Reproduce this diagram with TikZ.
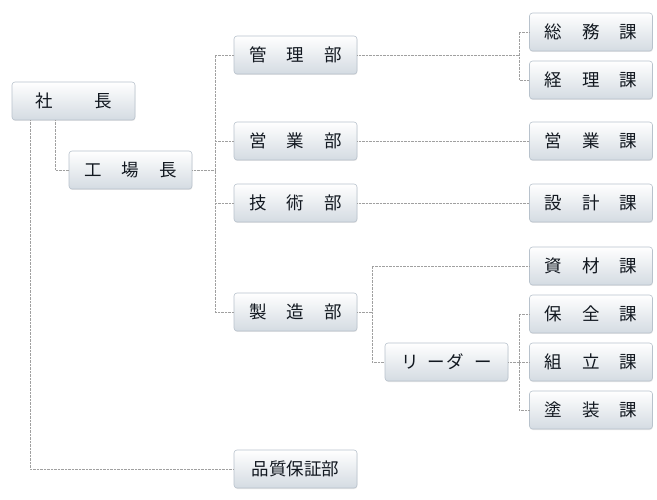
\documentclass[tikz,border=0pt]{standalone}
\usepackage{fontspec}
\newfontfamily\jp{Noto Sans CJK JP}
\usetikzlibrary{shadows}
\definecolor{boxline}{RGB}{184,194,204}
\definecolor{boxtop}{RGB}{255,255,255}
\definecolor{boxbot}{RGB}{212,219,226}
\definecolor{boxtext}{RGB}{18,24,32}
\definecolor{linegray}{RGB}{160,160,160}
\begin{document}
\begin{tikzpicture}
        [x=1pt, y=-1pt,
        box/.style={rectangle, rounded corners=3pt, draw=boxline, line width=0.6pt,
            top color=boxtop, bottom color=boxbot, minimum width=123pt, minimum height=38pt,
            inner sep=0pt, text=boxtext, font=\jp\fontsize{17.5}{19}\selectfont,
            drop shadow={opacity=0.18, shadow xshift=0.4pt, shadow yshift=-1pt}},
        link/.style={draw=linegray, line width=0.7pt, dash pattern=on 0.7pt off 0.7pt}]

        \useasboundingbox (0,0) rectangle (657,500);

        \node[box] (shacho) at (73.5,101) {社\hspace{2.4em}長};
        \node[box] (kojo) at (130.5,170) {工\hspace{1.15em}場\hspace{1.15em}長};
        \node[box] (kanri) at (295.5,55) {管\hspace{1.15em}理\hspace{1.15em}部};
        \node[box] (eigyo) at (295.5,141) {営\hspace{1.15em}業\hspace{1.15em}部};
        \node[box] (gijutsu) at (295.5,203) {技\hspace{1.15em}術\hspace{1.15em}部};
        \node[box] (seizo) at (295.5,312) {製\hspace{1.15em}造\hspace{1.15em}部};
        \node[box] (hinshitsu) at (295.5,469) {品質保証部};
        \node[box] (leader) at (446.5,362) {リ\hspace{0.5em}ー\hspace{0.05em}ダ\hspace{0.6em}ー};

        \node[box] (somu) at (591,32) {総\hspace{1.15em}務\hspace{1.15em}課};
        \node[box] (keiri) at (591,80) {経\hspace{1.15em}理\hspace{1.15em}課};
        \node[box] (eigyoka) at (591,141) {営\hspace{1.15em}業\hspace{1.15em}課};
        \node[box] (sekkei) at (591,203) {設\hspace{1.15em}計\hspace{1.15em}課};
        \node[box] (shizai) at (591,266) {資\hspace{1.15em}材\hspace{1.15em}課};
        \node[box] (hozen) at (591,314) {保\hspace{1.15em}全\hspace{1.15em}課};
        \node[box] (kumitate) at (591,362) {組\hspace{1.15em}立\hspace{1.15em}課};
        \node[box] (toso) at (591,410) {塗\hspace{1.15em}装\hspace{1.15em}課};

        % branch points
        \coordinate (b1) at (215,170);
        \coordinate (b2) at (519,55);
        \coordinate (b3) at (372,312);
        \coordinate (b4) at (519,362);

        % from the president
        \draw[link] ([xshift=-18.5pt]shacho.south) |- (kojo.west);
        \draw[link] ([xshift=-43.5pt]shacho.south) |- (hinshitsu.west);

        % departments
        \draw[link] (kojo.east) -- (b1);
        \draw[link] (kanri.west) -| (b1) |- (seizo.west);
        \draw[link] (eigyo.west) -- (b1 |- eigyo.west);
        \draw[link] (gijutsu.west) -- (b1 |- gijutsu.west);

        % sections
        \draw[link] (kanri.east) -- (b2);
        \draw[link] (somu.west) -| (b2) |- (keiri.west);
        \draw[link] (eigyo.east) -- (eigyoka.west);
        \draw[link] (gijutsu.east) -- (sekkei.west);
        \draw[link] (seizo.east) -- (b3);
        \draw[link] (shizai.west) -| (b3) |- (leader.west);
        \draw[link] (leader.east) -- (b4);
        \draw[link] (hozen.west) -| (b4) |- (toso.west);
        \draw[link] (kumitate.west) -- (b4);

    \end{tikzpicture}
\end{document}
